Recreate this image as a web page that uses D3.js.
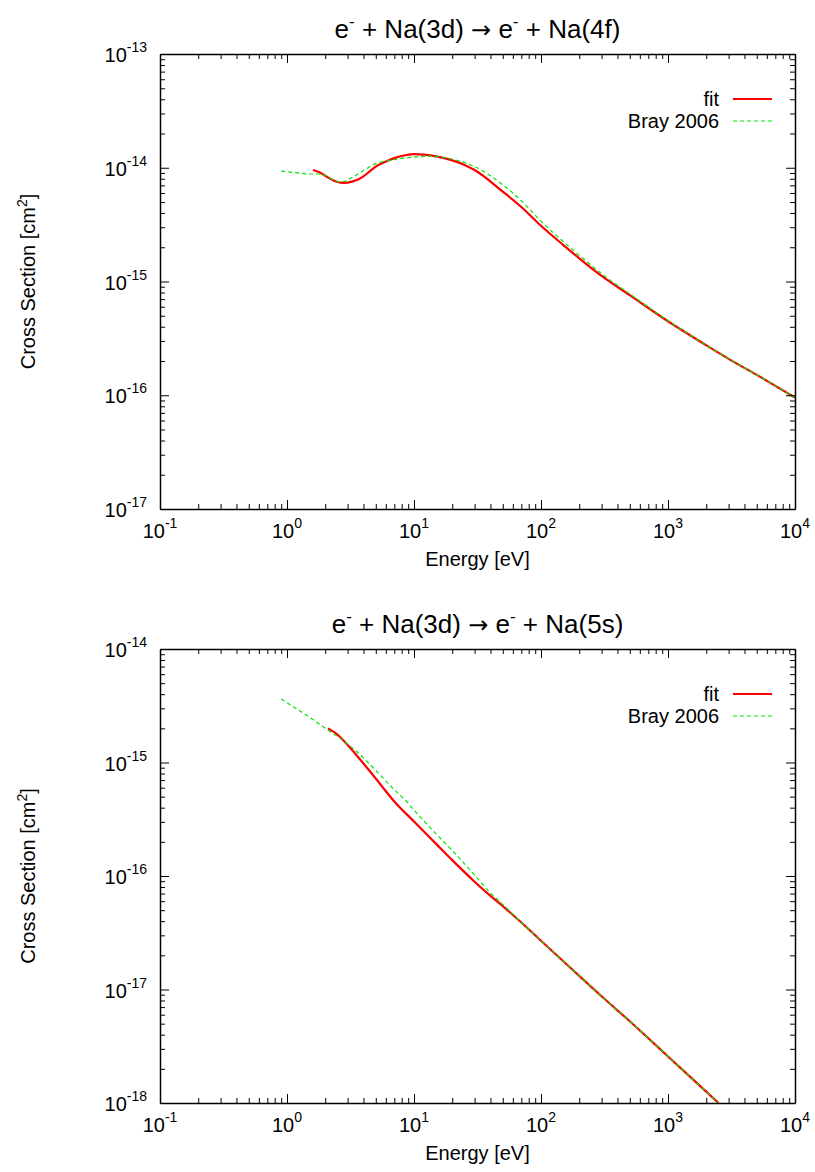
<!DOCTYPE html>
<html>
<head>
<meta charset="utf-8">
<script src="https://cdn.jsdelivr.net/npm/d3@7"></script>
<style>
	body { margin: 0; background: #fff; }
	text { font-family: "Liberation Sans", Arial, Helvetica, sans-serif; fill: #000; }
</style>
</head>
<body>
<div id="chart"></div>
<script>
const width = 815;
const height = 1172;

// top panel: e- + Na(3d) -> e- + Na(4f), energy in eV, cross section in cm^2
const fit4fEnergy = [1.6, 1.8, 2.0, 2.3, 2.75, 3.0, 3.5, 4.0, 4.5, 5.0, 6.0, 7.0, 8.5, 10, 12, 15, 20, 25, 30, 50, 70, 100, 150, 200, 300, 500, 1000, 2000, 3000, 5000, 10000];
const fit4fSigma = [9.55e-15, 9.12e-15, 8.51e-15, 7.76e-15, 7.35e-15, 7.41e-15, 7.76e-15, 8.41e-15, 9.33e-15, 1.023e-14, 1.135e-14, 1.216e-14, 1.288e-14, 1.318e-14, 1.303e-14, 1.259e-14, 1.161e-14, 1.059e-14, 9.55e-15, 6.17e-15, 4.52e-15, 3.09e-15, 2.09e-15, 1.6e-15, 1.12e-15, 7.59e-16, 4.47e-16, 2.75e-16, 2.09e-16, 1.51e-16, 9.55e-17];
const bray4fEnergy = [0.9, 1.2, 1.5, 1.8, 2.1, 2.4, 2.6, 2.9, 3.2, 3.56, 4.0, 4.75, 5.5, 6.8, 9, 12, 14, 17, 20, 25, 30, 50, 70, 100, 150, 200, 300, 500, 1000, 2000, 3000, 5000, 10000];
const bray4fSigma = [9.33e-15, 9.02e-15, 8.81e-15, 8.81e-15, 8.32e-15, 7.67e-15, 7.5e-15, 7.67e-15, 8.13e-15, 8.71e-15, 9.44e-15, 1.059e-14, 1.122e-14, 1.175e-14, 1.225e-14, 1.259e-14, 1.268e-14, 1.23e-14, 1.189e-14, 1.109e-14, 1.023e-14, 7.08e-15, 5.13e-15, 3.39e-15, 2.24e-15, 1.70e-15, 1.17e-15, 7.76e-16, 4.52e-16, 2.75e-16, 2.09e-16, 1.51e-16, 9.55e-17];

// bottom panel: e- + Na(3d) -> e- + Na(5s)
const fit5sEnergy = [2.1, 2.4, 2.76, 3.5, 4.75, 7.08, 10, 15, 20, 30, 40, 50, 70, 100, 200, 300, 500, 1000, 2000, 2500];
const fit5sSigma = [2.0e-15, 1.82e-15, 1.58e-15, 1.17e-15, 7.76e-16, 4.47e-16, 3.02e-16, 1.91e-16, 1.38e-16, 8.91e-17, 6.68e-17, 5.43e-17, 3.89e-17, 2.69e-17, 1.32e-17, 8.71e-18, 5.25e-18, 2.57e-18, 1.26e-18, 1.0e-18];
const bray5sEnergy = [0.9, 1.2, 1.5, 2.07, 2.5, 2.95, 4, 5, 7, 8.5, 10, 15, 20, 30, 40, 50, 70, 100, 200, 300, 500, 1000, 2000, 2500];
const bray5sSigma = [3.63e-15, 2.95e-15, 2.51e-15, 1.95e-15, 1.7e-15, 1.48e-15, 1.096e-15, 8.51e-16, 5.75e-16, 4.68e-16, 3.80e-16, 2.34e-16, 1.68e-16, 1.02e-16, 7.08e-17, 5.62e-17, 3.89e-17, 2.69e-17, 1.32e-17, 8.71e-18, 5.25e-18, 2.57e-18, 1.26e-18, 1.0e-18];

const xTickExponents = [-1, 0, 1, 2, 3, 4];
const yTickExponents4f = [-17, -16, -15, -14, -13];
const yTickExponents5s = [-18, -17, -16, -15, -14];
const titleFinalStates = ["Na(4f)", "Na(5s)"];
const legendLabels = ["fit", "Bray 2006"];
const xLabel = "Energy [eV]";

const margin = { left: 160, right: 795 };
const panels = [
	{ top: 54, bottom: 509, state: titleFinalStates[0], yExp: yTickExponents4f,
		fit: fit4fEnergy.map((e, i) => ({ e, s: fit4fSigma[i] })),
		bray: bray4fEnergy.map((e, i) => ({ e, s: bray4fSigma[i] })) },
	{ top: 649, bottom: 1103, state: titleFinalStates[1], yExp: yTickExponents5s,
		fit: fit5sEnergy.map((e, i) => ({ e, s: fit5sSigma[i] })),
		bray: bray5sEnergy.map((e, i) => ({ e, s: bray5sSigma[i] })) },
];

const svg = d3.select("#chart").append("svg").attr("width", width).attr("height", height);

function minorValues(exps) {
	const out = [];
	for (let p = exps[0]; p < exps[exps.length - 1]; p++) {
		for (let k = 2; k <= 9; k++) out.push(k * Math.pow(10, p));
	}
	return out;
}

function powLabel(sel, exp, supSize, raise) {
	sel.append("tspan").text("10");
	sel.append("tspan").attr("dy", -raise).attr("font-size", supSize).text(exp);
}

function drawPanel(p, idx) {
	const x = d3.scaleLog().domain([0.1, 1e4]).range([margin.left, margin.right]);
	const y = d3.scaleLog()
		.domain([Math.pow(10, p.yExp[0]), Math.pow(10, p.yExp[p.yExp.length - 1])])
		.range([p.bottom, p.top]);
	const g = svg.append("g");
	const xMajor = xTickExponents.map((d) => Math.pow(10, d));
	const yMajor = p.yExp.map((d) => Math.pow(10, d));
	const xMinor = minorValues(xTickExponents);
	const yMinor = minorValues(p.yExp);

	// curves first, frame on top
	const clipId = `clip${idx}`;
	g.append("clipPath").attr("id", clipId).append("rect")
		.attr("x", margin.left).attr("y", p.top)
		.attr("width", margin.right - margin.left).attr("height", p.bottom - p.top);
	const line = d3.line().x((d) => x(d.e)).y((d) => y(d.s)).curve(d3.curveMonotoneX);
	g.append("path").datum(p.fit)
		.attr("clip-path", `url(#${clipId})`)
		.attr("fill", "none").attr("stroke", "#ff0000").attr("stroke-width", 2.2)
		.attr("d", line);
	g.append("path").datum(p.bray)
		.attr("clip-path", `url(#${clipId})`)
		.attr("fill", "none").attr("stroke", "#00e600").attr("stroke-width", 1.2)
		.attr("stroke-dasharray", "4,3")
		.attr("d", line);

	const axes = [
		{ gen: d3.axisBottom, scale: x, at: `translate(0,${p.bottom})`, major: xMajor, minor: xMinor },
		{ gen: d3.axisTop, scale: x, at: `translate(0,${p.top})`, major: xMajor, minor: xMinor },
		{ gen: d3.axisLeft, scale: y, at: `translate(${margin.left},0)`, major: yMajor, minor: yMinor },
		{ gen: d3.axisRight, scale: y, at: `translate(${margin.right},0)`, major: yMajor, minor: yMinor },
	];
	axes.forEach((a) => {
		g.append("g").attr("transform", a.at)
			.call(a.gen(a.scale).tickValues(a.minor).tickSizeInner(-5).tickSizeOuter(0).tickFormat(""))
			.call((s) => s.select(".domain").remove());
		g.append("g").attr("transform", a.at)
			.call(a.gen(a.scale).tickValues(a.major).tickSizeInner(-9).tickSizeOuter(0).tickFormat(""));
	});
	g.selectAll(".domain").attr("stroke", "#000").attr("stroke-width", 1.5);
	g.selectAll(".tick line").attr("stroke", "#000").attr("stroke-width", 1);

	// tick labels
	xTickExponents.forEach((ex) => {
		const t = g.append("text").attr("x", x(Math.pow(10, ex))).attr("y", p.bottom + 29)
			.attr("text-anchor", "middle").attr("font-size", 20);
		powLabel(t, ex, 14, 10);
	});
	p.yExp.forEach((ex) => {
		const t = g.append("text").attr("x", 147).attr("y", y(Math.pow(10, ex)) + 8)
			.attr("text-anchor", "end").attr("font-size", 20);
		powLabel(t, ex, 14, 10);
	});

	// title
	const title = g.append("text").attr("x", (margin.left + margin.right) / 2).attr("y", p.top - 16)
		.attr("text-anchor", "middle").attr("font-size", 26);
	title.append("tspan").text("e");
	title.append("tspan").attr("dy", -11).attr("font-size", 17).text("-");
	title.append("tspan").attr("dy", 11).text(" + Na(3d) ");
	title.append("tspan").attr("font-family", "DejaVu Sans").attr("font-size", 24).text("\u2192");
	title.append("tspan").text(" e");
	title.append("tspan").attr("dy", -11).attr("font-size", 17).text("-");
	title.append("tspan").attr("dy", 11).text(` + ${p.state}`);

	// axis labels
	g.append("text").attr("x", (margin.left + margin.right) / 2).attr("y", p.bottom + 57)
		.attr("text-anchor", "middle").attr("font-size", 20).text(xLabel);
	const yl = g.append("text")
		.attr("transform", `translate(35,${(p.top + p.bottom) / 2}) rotate(-90)`)
		.attr("text-anchor", "middle").attr("font-size", 20);
	yl.append("tspan").text("Cross Section [cm");
	yl.append("tspan").attr("dy", -8).attr("font-size", 14).text("2");
	yl.append("tspan").attr("dy", 8).text("]");

	// legend
	const colors = ["#ff0000", "#00e600"];
	legendLabels.forEach((lab, i) => {
		const ly = p.top + 45 + i * 22;
		g.append("text").attr("x", 719).attr("y", ly + 7).attr("text-anchor", "end")
			.attr("font-size", 20).text(lab);
		g.append("line").attr("x1", 733).attr("x2", 772).attr("y1", ly).attr("y2", ly)
			.attr("stroke", colors[i]).attr("stroke-width", i === 0 ? 2.2 : 1.2)
			.attr("stroke-dasharray", i === 0 ? null : "4,3");
	});
}

panels.forEach((p, i) => drawPanel(p, i));
</script>
</body>
</html>
